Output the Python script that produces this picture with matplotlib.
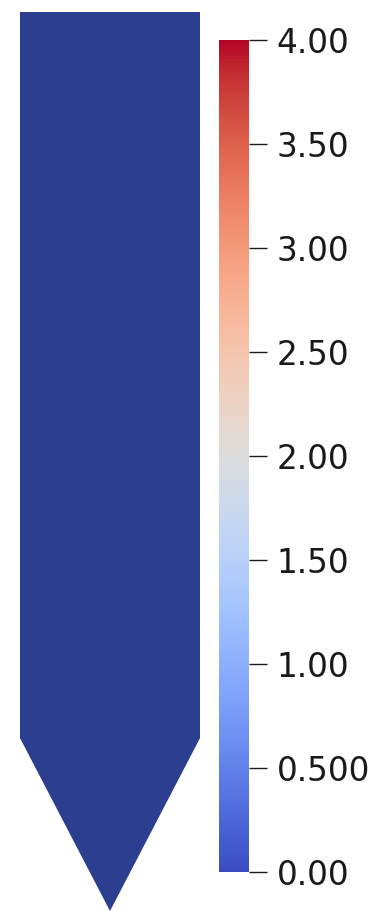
import numpy as np
import matplotlib.pyplot as plt
from matplotlib import colors, colorbar
from matplotlib.patches import Polygon

# domain outline (probe body with conical tip), in model units
body_width = 1.0
body_length = 4.03
tip_length = 0.96

# field value on the domain and colour scale
field_value = 0.0
vmin, vmax = 0.0, 4.0
tick_values = [0.0, 0.5, 1.0, 1.5, 2.0, 2.5, 3.0, 3.5, 4.0]
tick_labels = ["0.00", "0.500", "1.00", "1.50", "2.00", "2.50", "3.00", "3.50", "4.00"]

W, H = 377, 911
fig = plt.figure(figsize=(W / 100, H / 100), dpi=100)

# rendered surface colour (shaded value 0 of cool-to-warm)
surface_color = "#2c3e8f"

ax = fig.add_axes([20 / W, 1 - 911 / H, 180 / W, 899 / H])
outline = np.array([
    [0, tip_length + body_length],
    [body_width, tip_length + body_length],
    [body_width, tip_length],
    [body_width / 2, 0],
    [0, tip_length],
])
ax.add_patch(Polygon(outline, closed=True, facecolor=surface_color, edgecolor="none"))
ax.set_xlim(0, body_width)
ax.set_ylim(0, tip_length + body_length)
ax.axis("off")

cax = fig.add_axes([219 / W, 1 - 872 / H, 30 / W, 832 / H])
norm = colors.Normalize(vmin=vmin, vmax=vmax)
cb = colorbar.ColorbarBase(cax, cmap=plt.get_cmap("coolwarm"), norm=norm, orientation="vertical")
cb.set_ticks(tick_values)
cb.set_ticklabels(tick_labels)
cb.outline.set_visible(False)
cax.tick_params(axis="y", direction="out", length=13, width=1.0, pad=7,
                labelsize=23.5, colors="#1a1a1a")

fig.savefig("out.png", dpi=100)
